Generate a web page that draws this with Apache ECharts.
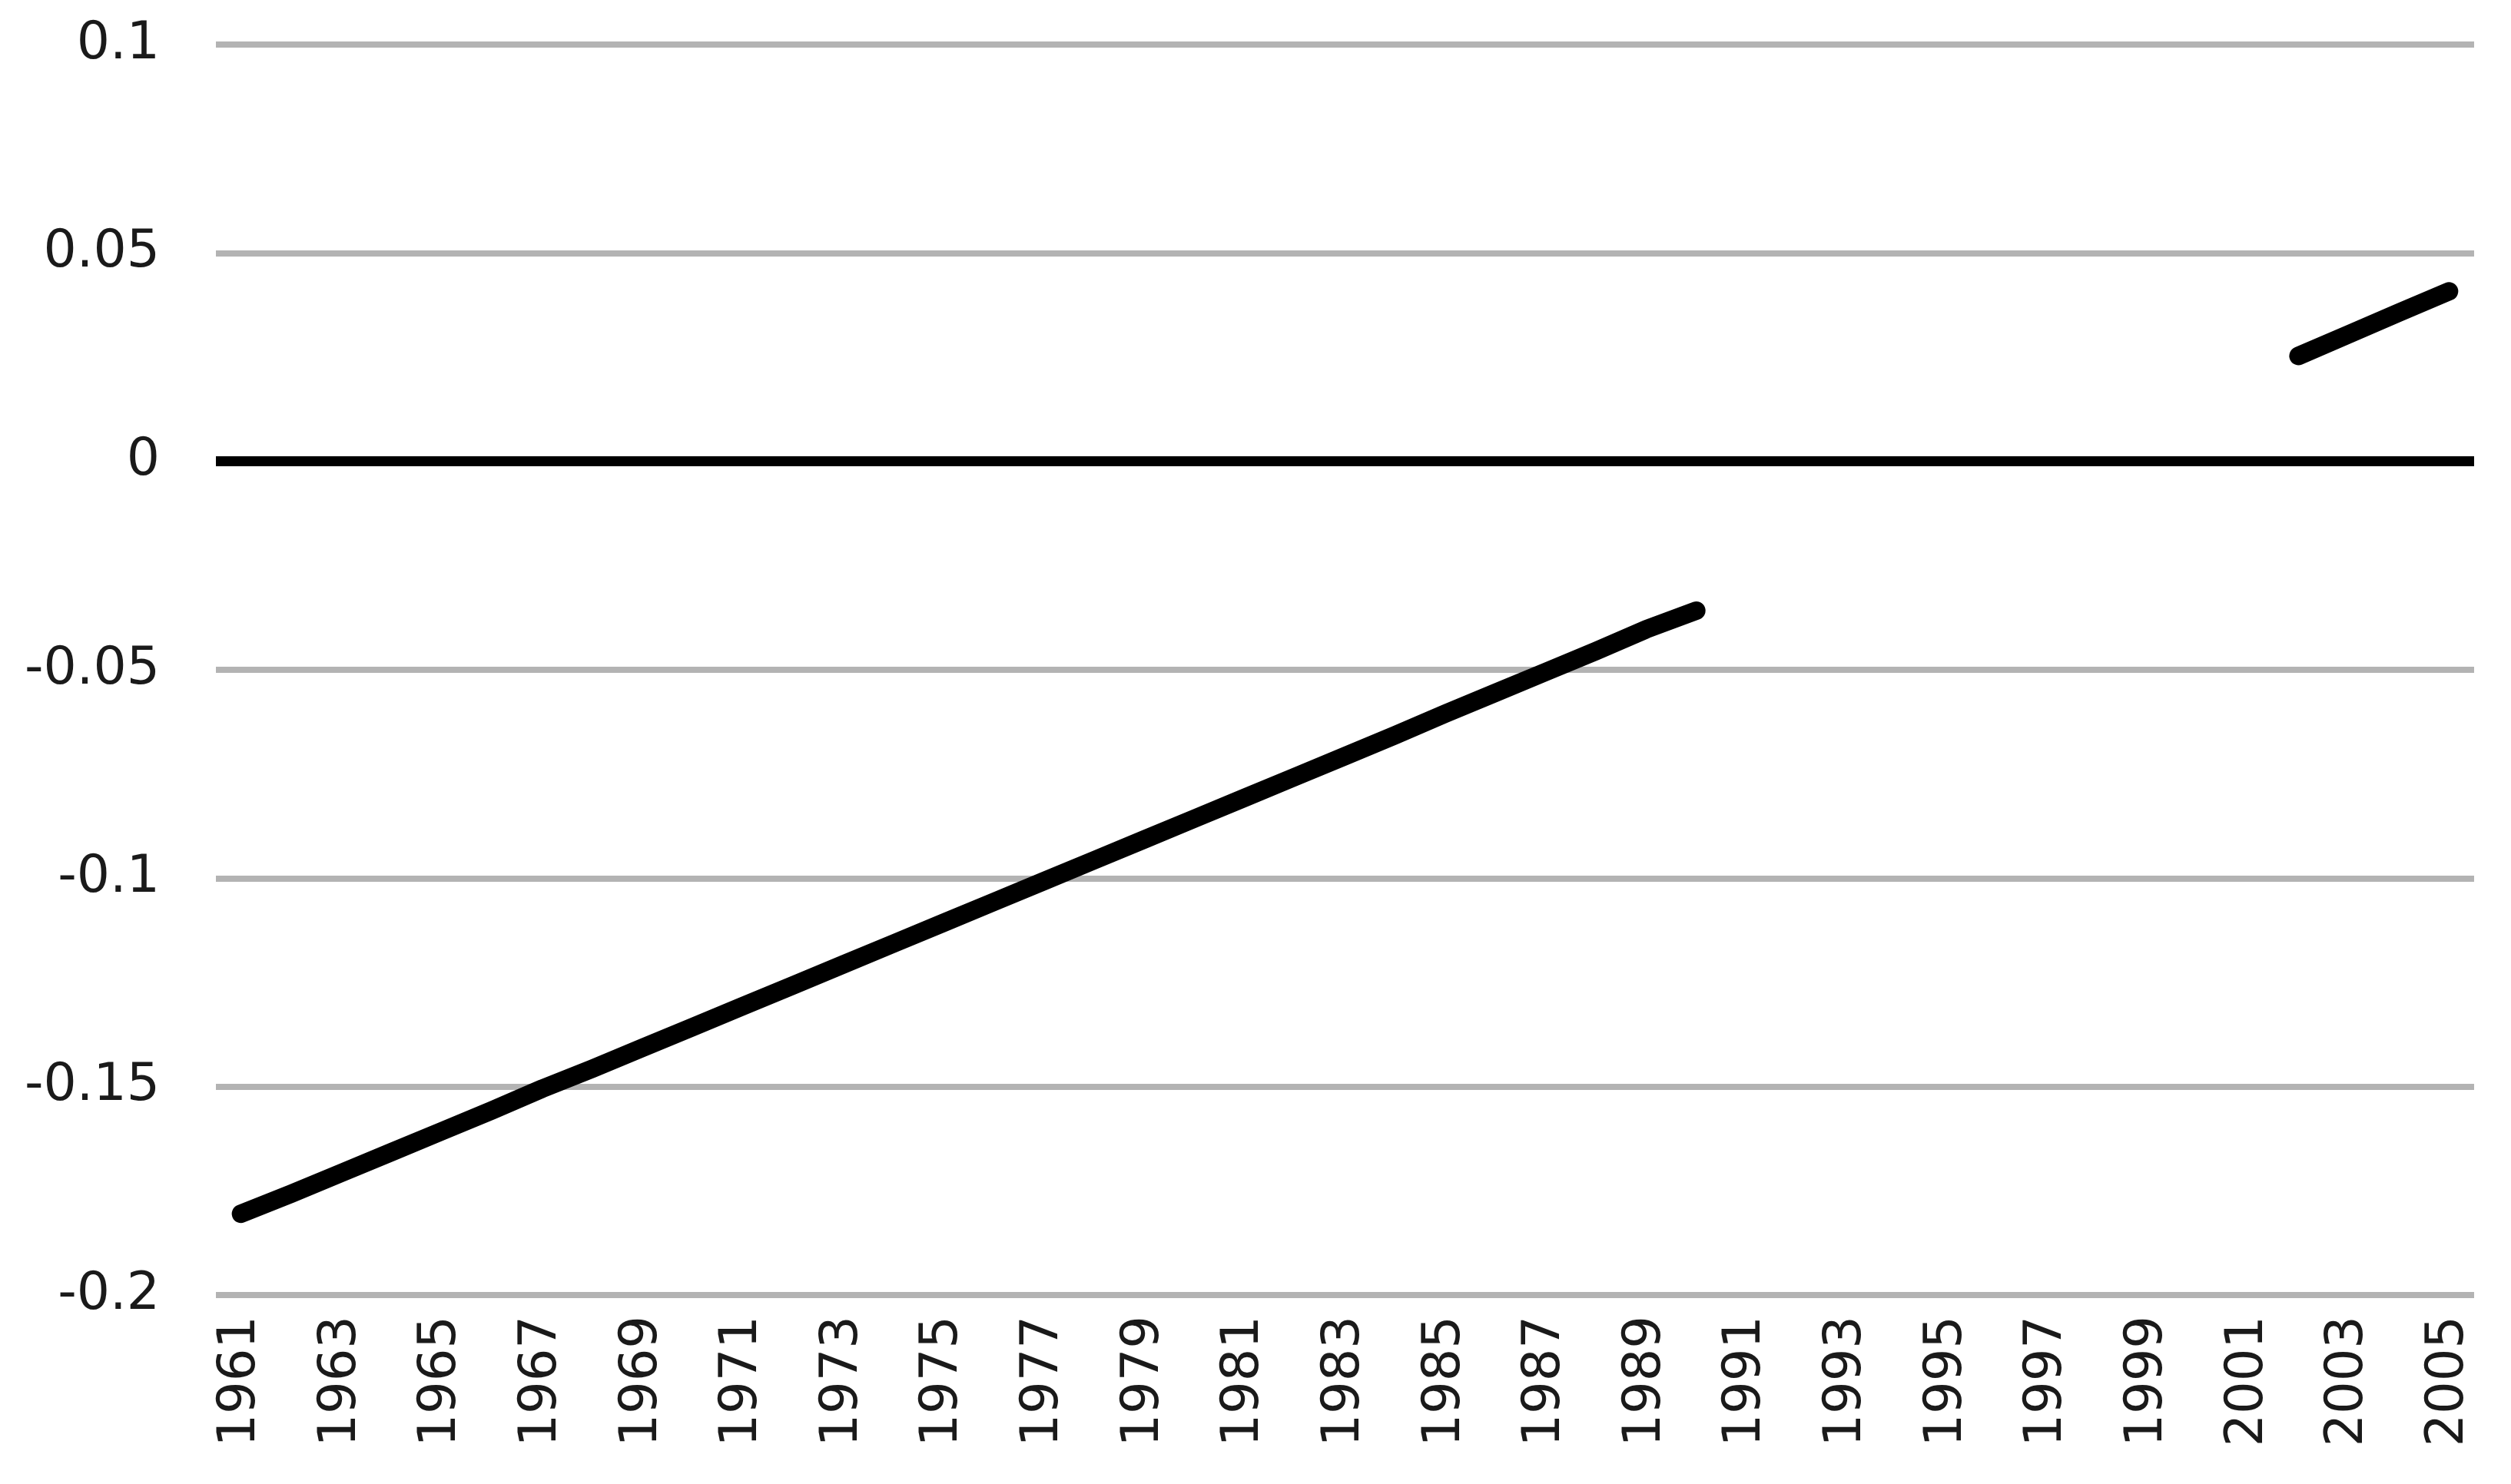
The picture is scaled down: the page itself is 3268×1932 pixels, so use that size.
<!DOCTYPE html>
<html>
<head>
<meta charset="utf-8">
<script src="https://cdn.jsdelivr.net/npm/echarts@6/dist/echarts.min.js"></script>
<style>
html,body{margin:0;padding:0;background:#fff;}
#chart{width:3268px;height:1932px;}
</style>
</head>
<body>
<div id="chart"></div>
<script>
var years = ['1961','1962','1963','1964','1965','1966','1967','1968','1969','1970',
  '1971','1972','1973','1974','1975','1976','1977','1978','1979','1980',
  '1981','1982','1983','1984','1985','1986','1987','1988','1989','1990',
  '1991','1992','1993','1994','1995','1996','1997','1998','1999','2000',
  '2001','2002','2003','2004','2005'];
var values = [-0.1805,-0.1757,-0.1707,-0.1657,-0.1607,-0.1557,-0.1505,-0.1457,-0.1407,-0.1357,
  -0.1307,-0.1257,-0.1207,-0.1157,-0.1107,-0.1057,-0.1007,-0.0957,-0.0907,-0.0857,
  -0.0807,-0.0757,-0.0707,-0.0657,-0.0605,-0.0555,-0.0505,-0.0455,-0.0403,-0.0358,
  null,null,null,null,null,null,null,null,null,null,
  null,0.0253,0.0305,0.0357,0.0408];
var yTicks = {min:-0.2, max:0.1, interval:0.05};

var chart = echarts.init(document.getElementById('chart'));
chart.setOption({
  animation:false,
  backgroundColor:'#ffffff',
  grid:{left:281, right:48, top:58, bottom:246, containLabel:false},
  xAxis:{
    type:'category',
    data:years,
    boundaryGap:true,
    axisLine:{show:false, onZero:false},
    axisTick:{show:false},
    splitLine:{show:false},
    axisLabel:{
      interval:1,
      rotate:90,
      margin:27,
      fontFamily:'DejaVu Sans',
      fontSize:67,
      color:'#1a1a1a'
    }
  },
  yAxis:{
    type:'value',
    min:yTicks.min, max:yTicks.max, interval:yTicks.interval,
    axisLine:{show:false},
    axisTick:{show:false},
    splitLine:{show:true, lineStyle:{color:'#b3b3b3', width:8}},
    axisLabel:{
      margin:73,
      fontFamily:'DejaVu Sans',
      fontSize:68,
      color:'#1a1a1a',
      formatter:function(v){ return String(Math.round(v*100)/100); }
    }
  },
  series:[{
    type:'line',
    data:values,
    connectNulls:false,
    symbol:'none',
    lineStyle:{color:'#000', width:24, cap:'round', join:'round'},
    markLine:{
      silent:true,
      symbol:'none',
      label:{show:false},
      lineStyle:{color:'#000', width:13, type:'solid'},
      data:[{yAxis:0}]
    },
    z:3
  }]
});
</script>
</body>
</html>
